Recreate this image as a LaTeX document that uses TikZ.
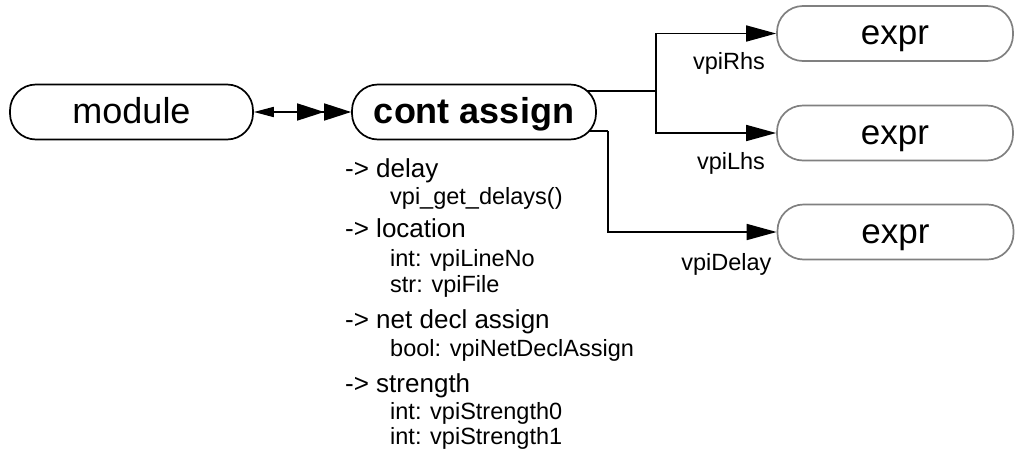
\documentclass[tikz,border=0pt]{standalone}
\usepackage{fontspec}
\setmainfont{Liberation Sans}
\usepackage{tikz}
\usetikzlibrary{arrows.meta}
\definecolor{vpiInk}{HTML}{000000}
\definecolor{vpiGray}{HTML}{808080}

\begin{document}
\begin{tikzpicture}[x=1pt,y=-1pt,
  objbox/.style={draw=vpiInk,line width=1.7pt,rounded corners=26pt,minimum width=243pt,minimum height=55pt,inner sep=0pt,text height=25pt,text depth=3pt,font=\fontsize{36}{40}\selectfont},
  exprbox/.style={objbox,draw=vpiGray,minimum width=236pt,font=\fontsize{35}{40}\selectfont},
  flow/.style={draw=vpiInk,line width=1.7pt,-{Triangle[length=30pt,width=16pt]}},
  lbl/.style={anchor=base east,inner sep=0pt,font=\fontsize{23.5}{26}\selectfont},
  hdr/.style={anchor=base west,inner sep=0pt,font=\fontsize{26}{28}\selectfont},
  sub/.style={anchor=base west,inner sep=0pt,font=\fontsize{23.5}{26}\selectfont}]
  \useasboundingbox (0,0) rectangle (1015,469);

  \node[objbox] (module) at (131.5,112) {module};
  \node[objbox,minimum width=244pt,font=\fontsize{36}{40}\selectfont\bfseries] (cont) at (474,112) {cont assign};
  \node[exprbox] (rhs) at (895,33.5) {expr};
  \node[exprbox] (lhs) at (895,133) {expr};
  \node[exprbox] (dly) at (895.5,232) {expr};

  \draw[line width=1.7pt,{Triangle[length=20pt,width=10pt]}-{Triangle[length=27pt,width=17pt,sep=0pt]Triangle[length=27pt,width=17pt]}] (module) -- (cont);

  % operands
  \coordinate (fork) at (656,91);
  \draw[line width=1.7pt] ([shift={(-9.5,-21)}]cont.east) -- (fork);
  \draw[flow] (fork) |- (rhs.west);
  \draw[flow] (fork) |- (lhs.west);
  \coordinate (bend) at (608,131);
  \draw[line width=1.7pt] ([shift={(-7.5,19)}]cont.east) -- (bend);
  \draw[flow] (bend) |- (dly.west);

  \node[lbl] (rhslbl) at ([shift={(-11,36)}]rhs.west) {vpiRhs};
  \node[lbl] (lhslbl) at ([shift={(-11,36)}]lhs.west) {vpiLhs};
  \node[lbl] (dlylbl) at ([shift={(-5,38)}]dly.west) {vpiDelay};

  % properties
  \node[hdr] (hdelay) at (345,177) {-> delay};
  \node[sub] (sdelay) at (390,204) {vpi\_get\_delays()};
  \node[hdr] (hloc) at (345,237) {-> location};
  \node[sub] (sline) at (390,266) {int: vpiLineNo};
  \node[sub] (sfile) at (390,292) {str: vpiFile};
  \node[hdr] (hnet) at (345,328) {-> net decl assign};
  \node[sub] (sbool) at (390,356) {bool: vpiNetDeclAssign};
  \node[hdr] (hstr) at (345,392) {-> strength};
  \node[sub] (sstr0) at (390,419) {int: vpiStrength0};
  \node[sub] (sstr1) at (390,444) {int: vpiStrength1};
\end{tikzpicture}
\end{document}
